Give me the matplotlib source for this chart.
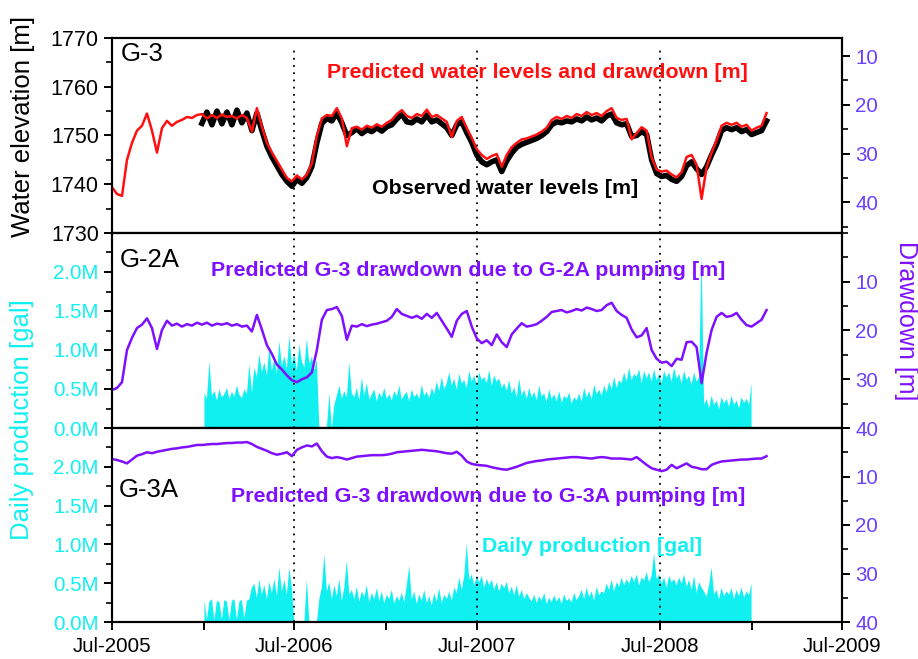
import matplotlib
matplotlib.use('Agg')
import matplotlib.pyplot as plt
import matplotlib.dates as mdates
from matplotlib.ticker import MultipleLocator, FuncFormatter
import pandas as pd

plt.rcParams['font.family'] = ['Liberation Sans', 'DejaVu Sans']

# predicted water level at G-3 [m], every 10 days from 2005-07-01
predicted = [
    1739.4, 1738.0, 1737.6, 1745.0, 1748.5, 1751.0, 1752.0, 1754.5, 1751.0, 1746.5,
    1751.5, 1753.0, 1752.0, 1752.8, 1753.2, 1753.8, 1753.6, 1754.2, 1754.4, 1753.5,
    1754.2, 1753.6, 1754.3, 1753.8, 1754.0, 1753.5, 1754.2, 1753.6, 1750.8, 1755.6,
    1751.8, 1748.5, 1746.5, 1744.8, 1743.0, 1741.3, 1740.6, 1741.8, 1741.0, 1742.0,
    1744.3, 1750.0, 1753.5, 1754.2, 1754.0, 1755.6, 1753.5, 1747.8, 1751.5, 1751.8,
    1751.2, 1752.0, 1751.6, 1752.3, 1751.8, 1752.6, 1753.2, 1754.4, 1755.2, 1754.0,
    1753.6, 1754.4, 1754.0, 1755.3, 1753.8, 1754.2, 1753.5, 1752.8, 1749.7, 1753.0,
    1753.8, 1751.5, 1749.5, 1747.2, 1746.0, 1745.2, 1745.8, 1746.2, 1743.6, 1746.0,
    1747.6, 1748.5, 1749.2, 1749.4, 1749.8, 1750.2, 1750.8, 1751.6, 1753.2, 1753.8,
    1753.4, 1754.0, 1753.6, 1754.4, 1754.0, 1754.8, 1754.2, 1754.6, 1754.0, 1755.0,
    1755.6, 1753.6, 1753.2, 1753.4, 1749.2, 1750.5, 1751.7, 1751.0, 1745.5, 1743.0,
    1742.6, 1742.8, 1742.0, 1741.4, 1742.5, 1745.6, 1746.0, 1744.0, 1737.0, 1743.5,
    1746.5, 1749.0, 1752.0, 1752.6, 1752.2, 1752.6, 1751.8, 1752.2, 1751.0, 1751.6,
    1752.0, 1754.6,
]

# observed water level at G-3 [m], every 10 days from 2005-12-28
observed = [
    1752.5, 1754.8, 1752.2, 1755.0, 1752.4, 1754.8, 1752.2, 1755.2, 1752.6, 1754.6,
    1751.0, 1754.6, 1751.0, 1747.8, 1745.6, 1743.8, 1742.0, 1740.6, 1739.6, 1741.0,
    1740.2, 1741.4, 1743.6, 1748.5, 1752.5, 1753.5, 1753.0, 1754.6, 1752.6, 1750.0,
    1750.6, 1751.4, 1750.4, 1751.2, 1750.8, 1751.6, 1750.9, 1751.8, 1752.2, 1753.4,
    1754.4, 1752.8, 1752.6, 1753.4, 1752.8, 1754.2, 1752.8, 1753.2, 1752.4, 1751.6,
    1750.0, 1752.2, 1752.8, 1750.6, 1748.6, 1746.0, 1744.6, 1744.0, 1744.6, 1745.0,
    1742.6, 1744.8, 1746.4, 1747.6, 1748.2, 1748.6, 1749.0, 1749.4, 1750.0, 1750.8,
    1752.2, 1752.8, 1752.6, 1753.0, 1752.8, 1753.4, 1753.0, 1753.8, 1753.2, 1753.6,
    1753.0, 1754.0, 1754.4, 1752.6, 1752.2, 1752.4, 1749.8, 1750.0, 1750.8, 1750.2,
    1745.0, 1742.2, 1741.6, 1741.8, 1741.0, 1740.6, 1741.6, 1743.8, 1744.6, 1743.2,
    1742.0, 1743.6, 1746.0, 1748.2, 1751.0, 1751.6, 1751.2, 1751.6, 1750.8, 1751.2,
    1750.2, 1750.6, 1751.0, 1753.0,
]

# drawdown at G-3 caused by G-2A pumping [m], every 10 days from 2005-07-01
dd_g2a = [
    32.2, 31.8, 30.6, 24.0, 21.5, 19.5, 18.8, 17.5, 19.5, 23.8,
    19.9, 18.0, 19.0, 18.6, 19.2, 18.7, 19.0, 18.4, 18.8, 18.4,
    19.0, 18.6, 18.8, 18.5, 19.0, 18.7, 19.2, 19.0, 20.2, 16.8,
    19.8, 23.0, 24.8, 27.0, 28.0, 29.2, 30.2, 30.6, 30.0, 29.6,
    28.6, 24.0, 17.8, 15.8, 15.6, 15.2, 17.0, 21.9, 19.0, 19.2,
    18.7, 19.1, 18.8, 18.6, 18.3, 18.0, 17.2, 15.6, 16.6, 17.0,
    17.4, 17.0, 17.6, 16.6, 17.4, 16.4, 18.0, 19.6, 21.3, 18.0,
    16.6, 16.0, 19.2, 21.6, 22.6, 22.0, 23.0, 20.8, 22.4, 23.4,
    20.8, 19.6, 18.5, 19.2, 19.0, 18.7, 18.0, 17.2, 16.2, 16.0,
    15.8, 16.3, 16.0, 15.6, 15.9, 15.3, 15.6, 16.0, 15.8, 14.8,
    14.3, 16.0, 16.8, 17.4, 19.8, 21.4, 21.0, 19.5, 24.0, 25.8,
    26.6, 26.4, 27.3, 25.8, 26.0, 22.4, 22.3, 23.4, 30.8, 24.6,
    19.9, 17.2, 16.4, 17.2, 17.0, 16.4, 17.8, 18.9, 19.2, 18.5,
    17.8, 15.8,
]

# drawdown at G-3 caused by G-3A pumping [m], every 10 days from 2005-07-01
dd_g3a = [
    6.4, 6.6, 6.9, 7.3, 6.5, 5.7, 5.4, 5.0, 5.2, 4.9,
    4.7, 4.5, 4.3, 4.2, 4.0, 3.9, 3.7, 3.5, 3.5, 3.4,
    3.3, 3.3, 3.2, 3.1, 3.1, 3.0, 3.0, 2.9, 3.3, 3.9,
    4.3, 4.7, 5.2, 5.5, 5.3, 5.0, 5.8, 4.5, 4.0, 3.6,
    3.8, 3.2, 4.8, 5.9, 6.2, 6.0, 6.2, 6.5, 6.2, 5.9,
    5.8, 5.7, 5.6, 5.6, 5.6, 5.5, 5.3, 5.0, 4.9, 4.8,
    4.7, 4.6, 4.5, 4.6, 4.7, 4.8, 5.0, 5.2, 5.3, 4.9,
    5.7, 6.9, 7.4, 7.6, 7.7, 7.8, 8.1, 8.3, 8.5, 8.6,
    8.3, 8.0, 7.6, 7.2, 7.0, 6.8, 6.7, 6.5, 6.4, 6.3,
    6.2, 6.1, 6.0, 6.0, 6.1, 6.2, 6.3, 6.1, 6.0, 6.1,
    6.3, 6.3, 6.3, 6.4, 6.5, 6.0, 6.8, 7.6, 8.3, 8.6,
    8.9, 8.6, 7.6, 8.3, 7.8, 7.3, 8.0, 8.2, 8.5, 8.5,
    7.6, 7.2, 6.9, 6.8, 6.7, 6.6, 6.5, 6.5, 6.4, 6.3,
    6.3, 5.8,
]

# daily production of G-2A [million gal], every 5 days from 2006-01-01
prod_g2a = [
    0.45, 0.38, 0.86, 0.42, 0.48, 0.36, 0.50, 0.40, 0.44, 0.52,
    0.38, 0.47, 0.41, 0.55, 0.43, 0.39, 0.50, 0.44, 0.82, 0.46,
    0.78, 0.66, 0.95, 0.72, 0.85, 0.68, 1.05, 0.74, 0.90, 0.70,
    1.12, 0.80, 0.93, 0.76, 1.18, 0.82, 0.97, 0.74, 1.08, 0.86,
    0.78, 1.15, 0.83, 0.92, 0.75, 0.88, 0.00, 0.00, 0.00, 0.00,
    0.45, 0.00, 0.30, 0.42, 0.55, 0.38, 0.48, 0.40, 0.85, 0.45,
    0.40, 0.52, 0.36, 0.65, 0.42, 0.58, 0.37, 0.44, 0.50, 0.35,
    0.46, 0.40, 0.52, 0.38, 0.44, 0.36, 0.48, 0.41, 0.55, 0.37,
    0.43, 0.47, 0.35, 0.50, 0.40, 0.45, 0.38, 0.56, 0.42, 0.47,
    0.39, 0.52, 0.44, 0.60, 0.48, 0.66, 0.50, 0.58, 0.72, 0.55,
    0.64, 0.50, 0.70, 0.58, 0.62, 0.52, 0.74, 0.60, 0.68, 0.55,
    0.72, 0.62, 0.66, 0.58, 0.75, 0.55, 0.68, 0.60, 0.64, 0.52,
    0.58, 0.48, 0.62, 0.45, 0.53, 0.40, 0.64, 0.42, 0.50, 0.38,
    0.52, 0.40, 0.47, 0.36, 0.55, 0.41, 0.45, 0.34, 0.50, 0.38,
    0.44, 0.35, 0.48, 0.33, 0.42, 0.38, 0.46, 0.32, 0.40, 0.36,
    0.45, 0.34, 0.52, 0.40, 0.48, 0.37, 0.56, 0.44, 0.50, 0.42,
    0.55, 0.46, 0.60, 0.50, 0.66, 0.52, 0.62, 0.58, 0.72, 0.60,
    0.78, 0.62, 0.70, 0.66, 0.76, 0.58, 0.74, 0.64, 0.72, 0.60,
    0.76, 0.62, 0.70, 0.58, 0.74, 0.65, 0.72, 0.60, 0.78, 0.64,
    0.70, 0.58, 0.74, 0.62, 0.68, 0.56, 0.72, 0.60, 0.66, 2.24,
    0.30, 0.38, 0.26, 0.42, 0.30, 0.36, 0.25, 0.40, 0.32, 0.38,
    0.28, 0.42, 0.30, 0.36, 0.26, 0.40, 0.33, 0.38, 0.30, 0.58,
]

# daily production of G-3A [million gal], every 5 days from 2006-01-01
prod_g3a = [
    0.28, 0.04, 0.27, 0.30, 0.03, 0.28, 0.26, 0.04, 0.29, 0.27,
    0.03, 0.28, 0.30, 0.04, 0.27, 0.29, 0.05, 0.28, 0.30, 0.45,
    0.50, 0.32, 0.55, 0.36, 0.48, 0.30, 0.52, 0.38, 0.56, 0.34,
    0.71, 0.40, 0.55, 0.36, 0.70, 0.45, 0.00, 0.00, 0.00, 0.00,
    0.00, 0.56, 0.00, 0.00, 0.00, 0.00, 0.30, 0.45, 0.88, 0.40,
    0.52, 0.30, 0.48, 0.34, 0.56, 0.28, 0.45, 0.80, 0.36, 0.42,
    0.30, 0.46, 0.27, 0.40, 0.33, 0.48, 0.26, 0.38, 0.30, 0.44,
    0.28, 0.40, 0.25, 0.36, 0.30, 0.42, 0.24, 0.34, 0.28, 0.38,
    0.26, 0.48, 0.73, 0.30, 0.40, 0.24, 0.36, 0.28, 0.42, 0.25,
    0.34, 0.22, 0.38, 0.27, 0.44, 0.25, 0.36, 0.30, 0.40, 0.28,
    0.45, 0.38, 0.58, 0.42, 0.60, 1.02, 0.55, 0.62, 0.48, 0.58,
    0.52, 0.60, 0.45, 0.56, 0.48, 0.55, 0.42, 0.52, 0.40, 0.50,
    0.44, 0.52, 0.38, 0.46, 0.35, 0.48, 0.33, 0.42, 0.30, 0.38,
    0.32, 0.27, 0.36, 0.25, 0.34, 0.28, 0.38, 0.24, 0.32, 0.26,
    0.35, 0.27, 0.33, 0.24, 0.36, 0.28, 0.31, 0.26, 0.38, 0.29,
    0.34, 0.42, 0.30, 0.45, 0.33, 0.40, 0.28, 0.46, 0.35, 0.40,
    0.38, 0.50, 0.42, 0.55, 0.40, 0.52, 0.46, 0.58, 0.48, 0.56,
    0.50, 0.60, 0.52, 0.62, 0.48, 0.58, 0.54, 0.65, 0.52, 0.60,
    0.89, 0.56, 0.62, 0.50, 0.58, 0.45, 0.60, 0.52, 0.56, 0.48,
    0.58, 0.50, 0.62, 0.46, 0.55, 0.42, 0.60, 0.38, 0.52, 0.45,
    0.40, 0.33, 0.48, 0.71, 0.36, 0.42, 0.30, 0.45, 0.34, 0.40,
    0.36, 0.44, 0.30, 0.42, 0.34, 0.45, 0.32, 0.40, 0.35, 0.50,
]

marker_dates = ['2006-07-01', '2007-07-01', '2008-07-01']

t_model = pd.date_range('2005-07-01', periods=len(predicted), freq='10D')
t_obs = pd.date_range('2005-12-28', periods=len(observed), freq='10D')
t_prod = pd.date_range('2006-01-01', periods=len(prod_g2a), freq='5D')

RED = '#ff1010'
PURPLE = '#7f10ff'
TICKPURPLE = '#6a40ff'
CYAN = '#10f0f0'

W, H = 918, 659
fig = plt.figure(figsize=(W / 100, H / 100), dpi=100)

def frame(top, bottom):
    return [112 / W, 1 - bottom / H, 730 / W, (bottom - top) / H]

ax1 = fig.add_axes(frame(38, 233))
ax2 = fig.add_axes(frame(233, 428), sharex=ax1)
ax3 = fig.add_axes(frame(428, 622), sharex=ax1)
r1, r2, r3 = ax1.twinx(), ax2.twinx(), ax3.twinx()

# top: water levels
ax1.plot(t_obs, observed, color='black', lw=4.0, zorder=2)
ax1.plot(t_model, predicted, color=RED, lw=1.8, zorder=3)
ax1.set_ylim(1730, 1770)
ax1.yaxis.set_major_locator(MultipleLocator(10))
ax1.yaxis.set_minor_locator(MultipleLocator(5))
r1.set_ylim(46.3, 6.3)
r1.yaxis.set_major_locator(MultipleLocator(10))
r1.yaxis.set_minor_locator(MultipleLocator(5))

# middle: G-2A
ax2.fill_between(t_prod, 0, prod_g2a, color=CYAN, lw=0)
r2.plot(t_model, dd_g2a, color=PURPLE, lw=1.8)

# bottom: G-3A
ax3.fill_between(t_prod, 0, prod_g3a, color=CYAN, lw=0)
r3.plot(t_model, dd_g3a, color=PURPLE, lw=1.8)

mfmt = FuncFormatter(lambda v, pos: '%.1fM' % v)
for ax in (ax2, ax3):
    ax.set_ylim(0, 2.5)
    ax.set_yticks([0, 0.5, 1.0, 1.5, 2.0])
    ax.yaxis.set_minor_locator(MultipleLocator(0.25))
    ax.yaxis.set_major_formatter(mfmt)
    ax.tick_params(axis='y', which='both', colors='black', labelcolor=CYAN)
for r in (r2, r3):
    r.set_ylim(40, 0)
    r.set_yticks([10, 20, 30, 40])
    r.yaxis.set_minor_locator(MultipleLocator(5))

for r in (r1, r2, r3):
    r.tick_params(axis='y', which='both', colors='black', labelcolor=TICKPURPLE)

for ax in (ax1, ax2, ax3, r1, r2, r3):
    for s in ax.spines.values():
        s.set_linewidth(1.5)
    ax.tick_params(which='major', length=6, width=1.4, labelsize=14.8, direction='out')
    ax.tick_params(which='minor', length=4, width=1.2, direction='out')
ax1.tick_params(axis='y', labelsize=15.5)

for ax in (ax1, ax2, ax3):
    for d in marker_dates:
        ax.axvline(pd.Timestamp(d), color='black', ls=(0, (1, 3)), lw=1.3,
                   ymax=0.96 if ax is ax1 else 1, zorder=4)

ax1.set_xlim(pd.Timestamp('2005-07-01'), pd.Timestamp('2009-07-01'))
ax3.xaxis.set_major_locator(mdates.MonthLocator(bymonth=(1, 7)))
ax3.xaxis.set_major_formatter(FuncFormatter(
    lambda v, pos: mdates.num2date(v).strftime('%b-%Y') if mdates.num2date(v).month == 7 else ''))
ax3.tick_params(axis='x', pad=5)
ax1.tick_params(axis='x', labelbottom=False)
ax2.tick_params(axis='x', labelbottom=False)

def px(x, y):
    return x / W, 1 - y / H

# panel names and series labels
fig.text(*px(121, 54), 'G-3', fontsize=18.5, va='center')
fig.text(*px(120, 260), 'G-2A', fontsize=18.5, va='center')
fig.text(*px(119, 490), 'G-3A', fontsize=18.5, va='center')
note = dict(fontsize=15.4, fontweight='bold', ha='center', va='center')
fig.text(*px(537, 73), 'Predicted water levels and drawdown [m]', color=RED, **note)
fig.text(*px(505, 189), 'Observed water levels [m]', color='black', **note)
fig.text(*px(468, 271), 'Predicted G-3 drawdown due to G-2A pumping [m]',
         color=PURPLE, **note)
fig.text(*px(488, 497), 'Predicted G-3 drawdown due to G-3A pumping [m]',
         color=PURPLE, **note)
fig.text(*px(592, 546), 'Daily production [gal]', color=CYAN, **note)

# axis titles
fig.text(*px(23, 126), 'Water elevation [m]', fontsize=18.5, rotation=90,
         ha='center', va='center')
fig.text(*px(22, 420), 'Daily production [gal]', color=CYAN, fontsize=18.5,
         rotation=90, ha='center', va='center')
fig.text(*px(906, 321), 'Drawdown [m]', color=PURPLE, fontsize=18,
         rotation=-90, ha='center', va='center')

fig.savefig('out.png', dpi=100)
